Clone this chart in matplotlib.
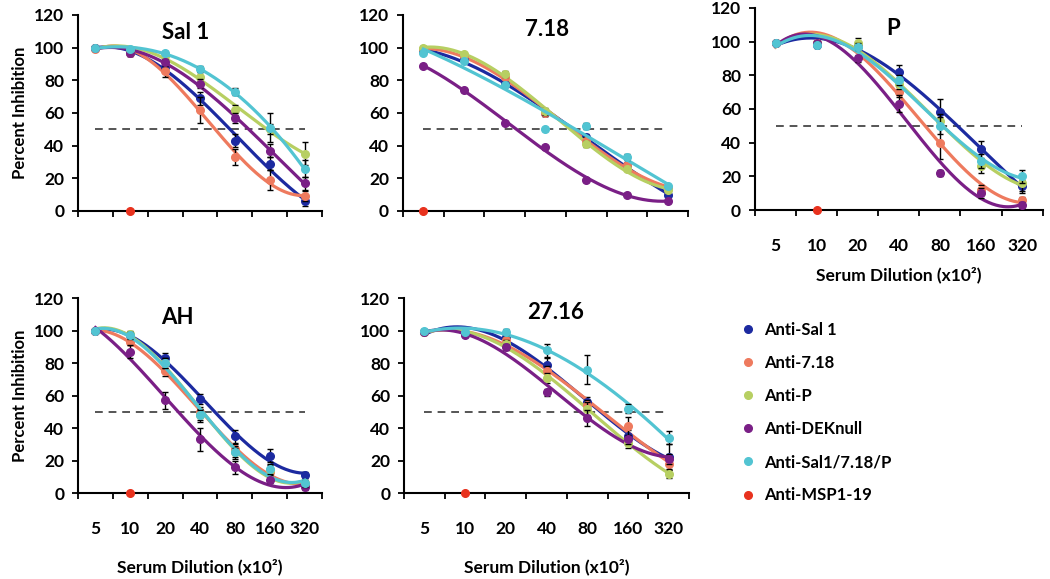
import numpy as np
import matplotlib.pyplot as plt
from matplotlib.lines import Line2D

plt.rcParams['font.family'] = ['Lato', 'DejaVu Sans']
plt.rcParams['font.weight'] = 'bold'

dilutions = ["5", "10", "20", "40", "80", "160", "320"]
series_names = ["Anti-Sal 1", "Anti-7.18", "Anti-P", "Anti-DEKnull",
                "Anti-Sal1/7.18/P", "Anti-MSP1-19"]
colors = ["#1c2aa0", "#ee7a5e", "#b7cf62", "#7a1f86", "#52c4d2", "#e8321e"]

# rows: Anti-Sal 1, Anti-7.18, Anti-P, Anti-DEKnull, Anti-Sal1/7.18/P
sal1 = [[100, 97, 88, 69, 43, 29, 6],
        [99, 97, 86, 62, 33, 19, 9],
        [100, 98, 95, 82, 62, 50, 35],
        [100, 97, 91, 78, 57, 37, 17],
        [100, 99, 97, 87, 73, 51, 26]]
sal1_err = [[1, 2, 3, 4, 4, 4, 3],
            [1, 2, 4, 8, 5, 6, 3],
            [1, 1, 2, 3, 3, 3, 7],
            [1, 1, 2, 3, 3, 4, 4],
            [1, 1, 1, 2, 2, 9, 5]]

p718 = [[98, 93, 78, 60, 45, 28, 10],
        [99, 95, 82, 60, 43, 28, 14],
        [100, 96, 84, 61, 41, 26, 13],
        [89, 74, 54, 39, 19, 10, 6],
        [97, 92, 77, 50, 52, 33, 15]]
p718_err = [[1, 1, 1, 2, 2, 1, 1],
            [1, 1, 1, 2, 2, 1, 1],
            [1, 1, 2, 2, 2, 1, 1],
            [1, 1, 1, 1, 1, 1, 1],
            [1, 1, 1, 1, 2, 2, 1]]

pp = [[99, 98, 98, 82, 58, 36, 14],
      [99, 99, 97, 70, 40, 12, 6],
      [99, 99, 99, 75, 53, 26, 16],
      [99, 99, 90, 63, 22, 10, 3],
      [99, 98, 97, 77, 50, 29, 20]]
pp_err = [[1, 1, 2, 4, 8, 5, 4],
          [1, 1, 2, 3, 10, 3, 2],
          [1, 1, 3, 3, 4, 4, 5],
          [1, 1, 2, 5, 2, 3, 2],
          [1, 2, 2, 3, 5, 4, 4]]

ah = [[100, 97, 83, 58, 35, 23, 11],
      [100, 93, 75, 50, 27, 13, 5],
      [100, 98, 80, 48, 25, 14, 6],
      [100, 87, 57, 33, 16, 8, 4],
      [100, 97, 80, 48, 25, 15, 6]]
ah_err = [[1, 2, 3, 3, 4, 4, 2],
          [1, 2, 3, 3, 3, 3, 2],
          [1, 2, 3, 4, 4, 3, 2],
          [1, 4, 5, 7, 4, 2, 2],
          [1, 2, 3, 3, 3, 3, 2]]

p2716 = [[99, 98, 96, 79, 56, 35, 22],
         [99, 98, 94, 75, 54, 41, 18],
         [99, 98, 92, 71, 52, 31, 12],
         [99, 97, 90, 62, 46, 33, 21],
         [100, 99, 99, 88, 76, 52, 34]]
p2716_err = [[1, 1, 2, 4, 3, 4, 8],
             [1, 1, 2, 3, 3, 6, 4],
             [1, 1, 2, 3, 4, 3, 3],
             [1, 1, 2, 2, 5, 3, 3],
             [1, 1, 2, 4, 9, 3, 4]]

# Anti-MSP1-19: single point at 0 inhibition, category index per panel
msp_value = 0
msp_index = {"Sal 1": 1, "7.18": 0, "P": 1, "AH": 1, "27.16": 1}

fig = plt.figure(figsize=(10.5, 5.79), dpi=100)

# title, values, errors, axes rect, title x, title y, x labels?, y label?, xlabel pad
panels = [
    ("Sal 1", sal1, sal1_err, [0.0743, 0.6356, 0.2324, 0.3385], 2.6, 109, False, True, 0),
    ("7.18", p718, p718_err, [0.3838, 0.6356, 0.2714, 0.3385], 3.04, 111, False, False, 0),
    ("P", pp, pp_err, [0.719, 0.6373, 0.274, 0.349], 2.86, 108, True, False, 9),
    ("AH", ah, ah_err, [0.0743, 0.1485, 0.2324, 0.3368], 2.34, 108, True, True, 16),
    ("27.16", p2716, p2716_err, [0.3848, 0.1485, 0.2714, 0.3368], 3.21, 111, True, False, 16),
]

x = np.arange(len(dilutions))
xs = np.linspace(0, len(dilutions) - 1, 200)

for title, vals, errs, rect, tx, ty, show_x, show_ylab, xpad in panels:
    ax = fig.add_axes(rect)
    ax.plot([0, 6], [50, 50], color="#555555", lw=1.4, dashes=(4, 3), zorder=1)
    for i in range(5):
        y = np.array(vals[i], dtype=float)
        # Excel-style 3rd order polynomial trendline
        coef = np.polyfit(x, y, 3)
        ax.plot(xs, np.polyval(coef, xs), color=colors[i], lw=2.3, zorder=2 + i)
        ax.errorbar(x, y, yerr=errs[i], fmt="o", color=colors[i], ms=5.5,
                    ecolor="black", elinewidth=1, capsize=2.5, capthick=1,
                    zorder=3 + i)
    ax.plot([msp_index[title]], [msp_value], "o", color=colors[5], ms=5.5,
            clip_on=False, zorder=20)

    ax.set_xlim(-0.5, 6.5)
    ax.set_ylim(0, 120)
    ax.set_yticks(range(0, 121, 20))
    ax.set_xticks(np.arange(-0.5, 7, 1))
    ax.set_xticklabels([])
    ax.set_xticks(x, minor=True)
    if show_x:
        ax.set_xticklabels(dilutions, minor=True)
        ax.set_xlabel("Serum Dilution (x10²)", fontsize=12.5, fontweight="bold",
                      labelpad=xpad)
    ax.tick_params(axis="x", which="minor", length=0, labelsize=12.5, pad=20)
    ax.tick_params(axis="x", which="major", length=4, width=1.3, direction="out")
    ax.tick_params(axis="y", length=4, width=1.3, direction="out", labelsize=12.5,
                   pad=6)
    for lab in ax.get_xticklabels(minor=True) + ax.get_yticklabels():
        lab.set_fontweight("bold")
    for s in ["top", "right"]:
        ax.spines[s].set_visible(False)
    for s in ["left", "bottom"]:
        ax.spines[s].set_linewidth(1.5)
    if show_ylab:
        ax.set_ylabel("Percent Inhibition", fontsize=12, fontweight="bold")
        ax.yaxis.set_label_coords(-0.205, 0.5)
    ax.text(tx, ty, title, fontsize=16, fontweight="bold", ha="center",
            va="center")

handles = [Line2D([], [], marker="o", ls="none", color=c, ms=5.5) for c in colors]
fig.legend(handles, series_names, loc="upper left", bbox_to_anchor=(0.69, 0.4705),
           frameon=False, labelspacing=1.03, handletextpad=0.5,
           handlelength=1.0, prop={"weight": "bold", "size": 12})

fig.savefig("out.png", dpi=100)
